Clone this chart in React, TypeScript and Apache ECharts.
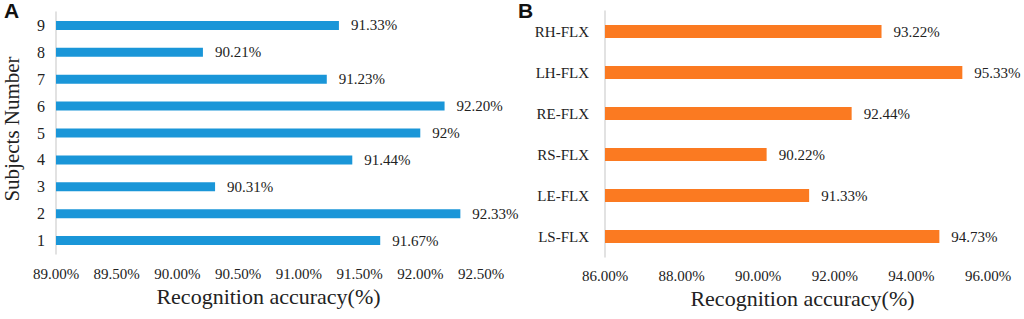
import React, { useEffect, useRef } from "react";
import * as echarts from "echarts";

const subjects = ["1", "2", "3", "4", "5", "6", "7", "8", "9"];
const subjectAcc = [91.67, 92.33, 90.31, 91.44, 92.0, 92.2, 91.23, 90.21, 91.33];
const subjectLabels = ["91.67%", "92.33%", "90.31%", "91.44%", "92%", "92.20%", "91.23%", "90.21%", "91.33%"];

const motions = ["LS-FLX", "LE-FLX", "RS-FLX", "RE-FLX", "LH-FLX", "RH-FLX"];
const motionAcc = [94.73, 91.33, 90.22, 92.44, 95.33, 93.22];

const FONT = "Times New Roman, Liberation Serif, serif";

export default function App() {
  const ref = useRef<HTMLDivElement>(null);
  useEffect(() => {
    const chart = echarts.init(ref.current!, undefined, { renderer: "svg" });
    const axisText = { fontFamily: FONT, fontSize: 15, color: "#222" };
    chart.setOption({
      animation: false,
      backgroundColor: "#fff",
      textStyle: { fontFamily: FONT },
      graphic: [
        { type: "text", left: 4, top: 0, style: { text: "A", fontFamily: "Liberation Sans", fontWeight: "bold", fontSize: 21, fill: "#111" } },
        { type: "text", left: 518, top: 0, style: { text: "B", fontFamily: "Liberation Sans", fontWeight: "bold", fontSize: 21, fill: "#111" } },
      ],
      grid: [
        { left: 56, top: 12, width: 425, height: 242 },
        { left: 605, top: 11, width: 383, height: 246 },
      ],
      xAxis: [
        {
          gridIndex: 0, type: "value", min: 89, max: 92.5, interval: 0.5,
          axisLine: { show: false }, axisTick: { show: false }, splitLine: { show: false },
          axisLabel: { ...axisText, margin: 12, formatter: (v: number) => v.toFixed(2) + "%" },
          name: "Recognition accuracy(%)", nameLocation: "middle", nameGap: 29,
          nameTextStyle: { fontFamily: FONT, fontSize: 22, color: "#222" },
        },
        {
          gridIndex: 1, type: "value", min: 86, max: 96, interval: 2,
          axisLine: { show: false }, axisTick: { show: false }, splitLine: { show: false },
          axisLabel: { ...axisText, margin: 11, formatter: (v: number) => v.toFixed(2) + "%" },
          name: "Recognition accuracy(%)", nameLocation: "middle", nameGap: 28,
          nameTextStyle: { fontFamily: FONT, fontSize: 22, color: "#222", padding: [0, 0, 0, 12] },
        },
      ],
      yAxis: [
        {
          gridIndex: 0, type: "category", data: subjects,
          axisLine: { show: true, lineStyle: { color: "#d9d9d9", width: 1.5 } },
          axisTick: { show: false },
          axisLabel: { ...axisText, fontSize: 16, margin: 11 },
          name: "Subjects Number", nameLocation: "middle", nameGap: 34, nameRotate: 90,
          nameTextStyle: { fontFamily: FONT, fontSize: 21, color: "#222", padding: [0, 0, 0, 8] },
        },
        {
          gridIndex: 1, type: "category", data: motions,
          axisLine: { show: true, lineStyle: { color: "#d9d9d9", width: 1.5 } },
          axisTick: { show: false },
          axisLabel: { ...axisText, margin: 16 },
        },
      ],
      series: [
        {
          type: "bar", xAxisIndex: 0, yAxisIndex: 0, data: subjectAcc, barWidth: 9,
          itemStyle: { color: "#1a96d8" },
          label: {
            show: true, position: "right", distance: 12, fontFamily: FONT, fontSize: 15, color: "#222",
            formatter: (p: any) => subjectLabels[p.dataIndex],
          },
        },
        {
          type: "bar", xAxisIndex: 1, yAxisIndex: 1, data: motionAcc, barWidth: 13,
          itemStyle: { color: "#fb7a21" },
          label: {
            show: true, position: "right", distance: 12, fontFamily: FONT, fontSize: 15, color: "#222",
            formatter: (p: any) => p.value.toFixed(2) + "%",
          },
        },
      ],
    });
    return () => chart.dispose();
  }, []);
  return (
    <div
      ref={ref}
      style={{ position: "fixed", left: 0, top: 0, width: 1024, height: 319, background: "#fff" }}
    />
  );
}
